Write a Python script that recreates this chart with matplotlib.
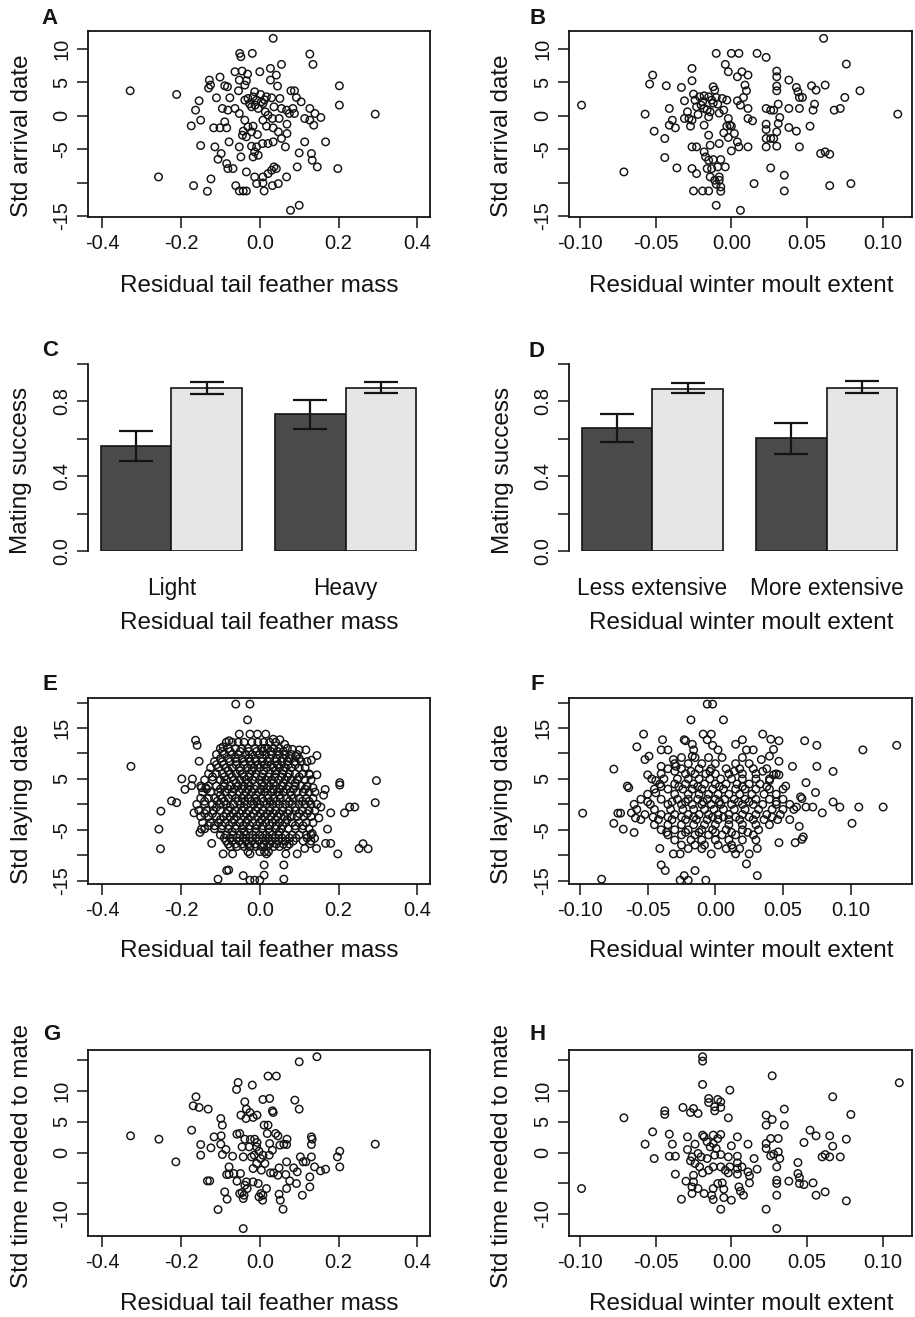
import numpy as np
import matplotlib
matplotlib.use('Agg')
import matplotlib.pyplot as plt

plt.rcParams['font.family'] = ['Liberation Sans', 'DejaVu Sans']

#figure size in pixels
W, H = 915, 1317

#panel A: residual tail feather mass vs std arrival date
a_x = [-0.329, -0.211, -0.257, -0.168, -0.133, -0.124, -0.174, -0.150, -0.163, -0.154, -0.150, -0.130,
       -0.128, -0.125, -0.101, -0.110, -0.114, -0.117, -0.101, -0.084, -0.106, -0.098, -0.084, -0.081,
       -0.068, -0.078, -0.076, -0.089, -0.082, -0.095, -0.081, -0.089, -0.063, -0.052, -0.051, -0.048,
       -0.019, -0.045, -0.031, -0.054, -0.038, -0.034, -0.063, -0.052, -0.038, -0.030, -0.017, -0.008,
       -0.021, -0.004, 0.008, 0.017, -0.013, 0.000, 0.027, 0.042, 0.055, 0.034, 0.027, 0.045, 0.030,
       0.051, 0.036, 0.055, 0.068, 0.021, 0.008, 0.017, 0.032, 0.049, 0.069, 0.034, 0.047, 0.069, 0.055,
       0.065, 0.034, 0.021, 0.007, -0.008, -0.021, -0.013, -0.004, -0.017, -0.048, -0.052, -0.042,
       -0.044, -0.034, -0.030, -0.017, -0.021, -0.038, -0.034, -0.013, -0.008, 0.008, 0.011, 0.008,
       0.021, 0.030, 0.036, 0.042, 0.032, 0.047, 0.068, -0.061, -0.052, -0.042, -0.034, 0.078, 0.100,
       0.095, 0.100, 0.114, 0.131, 0.133, 0.146, 0.167, 0.198, 0.127, 0.135, 0.202, 0.202, 0.293, 0.079,
       0.088, 0.093, 0.105, 0.127, 0.140, 0.155, 0.114, 0.127, 0.137, 0.084, 0.088, 0.075,
       -0.012, 0.004, 0.014, -0.026, 0.002, 0.012, -0.006]
a_y = [3.75, 3.2, -9.15, -10.45, -11.3, -9.45, -1.5, -0.65, 0.85, 2.25, -4.45, 4.15,
       5.35, 4.6, 5.8, 2.7, -4.65, -1.8, -1.8, -1.8, -6.5, -5.65, -7.15, -7.9,
       -7.9, -3.9, 2.7, 4.5, 4.35, 1.1, 0.85, -0.9, 6.6, 5.35, 9.35, 8.85,
       9.35, 6.7, 6.25, 3.75, 4.6, 5.25, 1.1, 0.35, 2.35, 2.6, 2.85, 2.35,
       1.35, 1.1, 1.85, 2.85, 3.6, 6.6, 7.1, 6.1, 7.7, 11.6, 5.35, 4.45, 2.7,
       2.6, 1.35, 1.1, 0.85, 0.1, -0.65, -1.55, -0.4, -0.4, -1.25, -1.8, -2.4, -2.65, -3.4,
       -4.65, -3.9, -4.15, -4.15, -4.65, -4.55, -5.4, -5.9, -6.15, -6.15, -4.65, -2.3,
       -2.9, -3.15, -1.65, -1.55, -2.4, -0.65, -8.4, -9.15, -10.15, -10.05, -11.25, -9.15,
       -8.65, -8.15, -7.65, -7.9, -10.45, -10.15, -9.15, -10.45, -11.25, -11.25, -11.25, -14.15, -13.4,
       -7.65, -5.55, -3.9, -5.65, -6.65, -7.65, -3.9, -7.9, 9.25, 7.7, 4.5, 1.6, 0.25, 3.75,
       3.75, 2.75, 2.1, 1.1, 0.35, -0.25, -0.4, -0.65, -1.4, 1.1, 0.35, 0.35,
       1.6, 2.1, 0.6, 1.8, 3.2, 2.4, -2.8]

#panel B: residual winter moult extent vs std arrival date
b_x = [-0.099, -0.071, -0.057, -0.052, -0.054, -0.043, -0.051, -0.044, -0.044, -0.036, -0.041, -0.039,
       -0.041, -0.037, -0.033, -0.031, -0.029, -0.026, -0.026, -0.028, -0.027, -0.025, -0.024, -0.023,
       -0.021, -0.019, -0.018, -0.015, -0.014, -0.013, -0.012, -0.011, -0.010, -0.009, -0.006, -0.003,
       -0.018, -0.015, -0.010, -0.004, 0.000, 0.005, -0.002, 0.004, 0.007, 0.011, 0.009, 0.010, 0.008,
       0.004, 0.006, -0.005, -0.002, -0.001, 0.000, -0.003, -0.005, -0.002, 0.002, 0.004, 0.005, 0.000,
       0.011, 0.011, 0.014, 0.017, 0.023, 0.030, 0.030, 0.030, 0.030, 0.038, 0.023, 0.026, 0.028, 0.031,
       0.032, 0.023, 0.023, 0.031, 0.030, 0.023, 0.026, 0.028, 0.023, 0.030, 0.026, 0.035, 0.035, 0.015,
       0.006, -0.010, 0.011, 0.038, 0.045, 0.038, 0.043, 0.045, 0.043, 0.044, 0.045, 0.047, 0.053, 0.056,
       0.055, 0.054, 0.052, 0.062, 0.061, 0.068, 0.072, 0.075, 0.076, 0.085, 0.059, 0.062, 0.065, 0.065,
       0.079, 0.110, -0.026, -0.023, -0.018, -0.017, -0.015, -0.012, -0.007, -0.013, -0.009, -0.004,
       -0.026, -0.023, -0.016, -0.014, -0.011, -0.008, -0.010, -0.007, -0.007, -0.025, -0.019, -0.015,
       -0.008, -0.014, -0.008, -0.015, -0.026, -0.031,
       -0.020, -0.016, -0.012, -0.022, -0.008, -0.018]
b_y = [1.6, -8.4, 0.25, 6.1, 4.75, 4.5, -2.3, -3.4, -6.25, -7.8, 1.1, -0.65,
       -1.4, -1.8, 4.25, 2.25, 0.6, 7.1, 5.25, -0.4, -1.55, 3.25, 2.35, 1.35,
       2.85, 2.1, 1.1, 2.85, 0.6, 2.35, 4.35, 3.85, 2.75, 1.75, 2.6, 2.35,
       -1.4, -0.15, 9.35, 7.7, 9.35, 9.35, 6.6, 5.85, 6.6, 6.1, 4.6, 3.75, 2.75,
       2.25, 1.6, 0.85, -0.4, -1.4, -1.55, -1.55, -2.55, -3.25, -2.65, -3.9, -4.65, -5.25,
       1.1, -0.4, -0.75, 9.35, 8.75, 6.7, 5.85, 4.45, 3.75, 5.35, 1.1, 0.85, 0.85, 1.75,
       -0.25, -1.25, -2.05, -1.15, -2.4, -3.4, -3.4, -3.4, -4.65, -4.55, -7.8, -8.9, -11.25, -10.15,
       -14.15, -13.4, -4.65, 1.1, 1.1, -1.75, -2.3, -4.65, 4.25, 3.6, 2.75, 2.75, 4.5, 3.85,
       1.75, 0.85, -1.55, 4.6, 11.6, 0.85, 1.1, 2.75, 7.75, 3.75, -5.65, -5.4, -5.75, -10.45,
       -10.15, 0.25, -4.65, -4.65, -5.4, -6.15, -6.65, -6.55, -6.55, -7.9, -7.65, -7.65,
       -7.9, -8.65, -7.9, -9.15, -9.65, -9.65, -10.25, -10.65, -11.3, -11.25, -11.25, -11.25,
       -9.15, -4.4, -4.15, -2.9, -0.65, -0.4,
       1.6, 0.9, 1.9, 0.2, 0.4, 3.0]

#panel C: mating success by tail feather mass (dark / light bars, error limits)
c_groups = ['Light', 'Heavy']
c_dark = [0.563, 0.734]
c_dark_lo = [0.480, 0.651]
c_dark_hi = [0.642, 0.809]
c_light = [0.873, 0.873]
c_light_lo = [0.840, 0.843]
c_light_hi = [0.905, 0.905]

#panel D: mating success by winter moult extent
d_groups = ['Less extensive', 'More extensive']
d_dark = [0.656, 0.603]
d_dark_lo = [0.583, 0.517]
d_dark_hi = [0.733, 0.683]
d_light = [0.865, 0.872]
d_light_lo = [0.843, 0.843]
d_light_hi = [0.897, 0.911]

#panel E: tail feather mass vs std laying date (outlying points)
e_x = [-0.327, -0.251, -0.256, -0.252, -0.224, -0.211, -0.198, -0.190, -0.171, -0.173, -0.167, -0.163,
       -0.159, -0.154, -0.148, -0.137, -0.152, -0.148, -0.122, -0.106, -0.084, -0.079, -0.093, -0.069,
       -0.093, -0.078, -0.061, -0.025, -0.031, -0.052, -0.025, -0.006, 0.015, 0.034, 0.051, 0.063, 0.083,
       0.100, 0.117, 0.091, 0.145, 0.131, 0.127, 0.145, 0.135, 0.166, 0.162, 0.203, 0.203, 0.296, 0.293,
       0.215, 0.228, 0.241, 0.180, 0.155, 0.150, 0.172, 0.167, 0.180, 0.198, 0.252, 0.262, 0.275, 0.144,
       0.128, 0.114, 0.095, 0.066, 0.069, 0.061, 0.061, 0.011, 0.011, 0.000, -0.013, -0.025, -0.042,
       0.017, -0.025, 0.133, 0.139]
e_y = [7.47, -1.33, -4.87, -8.73, 0.67, 0.33, 5.0, 2.93, 5.0, 3.67, -1.67, 12.6,
       11.6, 8.47, 3.27, 3.27, -5.53, -4.87, -7.67, -14.7, -13.0, -12.9, -9.73, -9.73,
       11.3, 12.5, 19.7, 19.7, 16.6, 13.8, 13.8, 13.8, 13.8, 12.8, 12.7, 11.8, 10.8,
       10.7, 10.7, 9.47, 9.6, 8.67, 5.8, 5.8, 3.27, 2.93, 1.8, 4.27, 3.8, 4.67, 0.33,
       -1.67, -0.53, -0.53, -1.67, -0.53, -2.67, -4.87, -7.67, -7.67, -9.73, -8.67, -7.73, -8.73, -8.67,
       -7.73, -8.67, -9.73, -9.73, -8.2, -11.9, -14.7, -11.9, -13.9, -14.9, -14.9, -14.9, -14.0,
       -9.73, -9.73, -5.73, -6.67]

#panel E dense core, read row by row
e_core_y = [12.2, 11.0, 10.4, 9.8, 9.0, 8.4, 7.8, 7.2, 6.6, 6.0, 5.4, 4.8, 4.2, 3.6, 3.0, 2.4, 1.8,
            1.2, 0.6, 0.0, -0.6, -1.2, -1.8, -2.4, -3.0, -3.6, -4.2, -4.8, -5.4, -6.0, -6.6, -7.2,
            -7.8, -8.3, -9.3]
e_core_x = [
    [-0.085, -0.07, -0.055, -0.04, -0.02, -0.005, 0.01, 0.025, 0.04],
    [-0.1, -0.08, -0.062, -0.045, -0.03, -0.012, 0.005, 0.012, 0.02, 0.035, 0.05, 0.07],
    [-0.095, -0.075, -0.05, -0.028, -0.008, 0.008, 0.028, 0.045, 0.06],
    [-0.11, -0.09, -0.07, -0.055, -0.035, -0.02, 0.0, 0.015, 0.03, 0.05, 0.065, 0.08, 0.095],
    [-0.1, -0.08, -0.062, -0.045, -0.028, -0.012, 0.008, 0.025, 0.042, 0.06, 0.075, 0.1],
    [-0.115, -0.095, -0.075, -0.06, -0.04, -0.025, -0.01, 0.005, 0.02, 0.04, 0.055, 0.07, 0.09, 0.105, 0.12],
    [-0.11, -0.092, -0.06, -0.04, -0.022, -0.005, 0.012, 0.028, 0.045, 0.072, 0.09],
    [-0.125, -0.105, -0.085, -0.07, -0.05, -0.03, -0.015, 0.0, 0.018, 0.035, 0.05, 0.065, 0.08, 0.1, 0.115],
    [-0.08, -0.05, -0.02, 0.01, 0.04, 0.06],
    [-0.13, -0.11, -0.095, -0.075, -0.06, -0.045, -0.025, -0.01, 0.008, 0.025, 0.04, 0.058, 0.075, 0.09, 0.11, 0.125],
    [-0.12, -0.09, -0.07, -0.04, -0.028, -0.012, 0.005, 0.022, 0.038, 0.055, 0.07, 0.1],
    [-0.14, -0.12, -0.1, -0.085, -0.065, -0.05, -0.035, -0.018, 0.0, 0.015, 0.03, 0.048, 0.065, 0.08, 0.095, 0.115, 0.13],
    [-0.09, -0.06, -0.03, 0.005, 0.035, 0.06, 0.09],
    [-0.15, -0.13, -0.11, -0.09, -0.075, -0.055, -0.04, -0.025, -0.008, 0.01, 0.025, 0.04, 0.058, 0.072, 0.09, 0.105, 0.12],
    [-0.135, -0.1, -0.08, -0.065, -0.045, -0.03, -0.014, 0.003, 0.018, 0.035, 0.05, 0.068, 0.085, 0.115],
    [-0.145, -0.125, -0.105, -0.088, -0.07, -0.052, -0.035, -0.02, -0.003, 0.012, 0.03, 0.045, 0.06, 0.078, 0.095, 0.11, 0.125, 0.14],
    [-0.1, -0.07, -0.04, -0.01, 0.02, 0.05, 0.08],
    [-0.15, -0.13, -0.115, -0.095, -0.08, -0.06, -0.045, -0.03, -0.012, 0.005, 0.02, 0.035, 0.052, 0.068, 0.085, 0.1, 0.118, 0.135],
    [-0.14, -0.108, -0.09, -0.055, -0.038, -0.022, -0.008, 0.01, 0.027, 0.042, 0.075, 0.108, 0.125],
    [-0.16, -0.14, -0.12, -0.1, -0.085, -0.065, -0.05, -0.032, -0.015, 0.0, 0.018, 0.033, 0.05, 0.065, 0.082, 0.1, 0.115, 0.13, 0.145],
    [-0.11, -0.075, -0.04, -0.005, 0.025, 0.058, 0.09],
    [-0.155, -0.135, -0.118, -0.1, -0.08, -0.062, -0.045, -0.028, -0.01, 0.008, 0.025, 0.04, 0.058, 0.075, 0.09, 0.108, 0.125, 0.14],
    [-0.14, -0.12, -0.085, -0.068, -0.05, -0.034, -0.016, 0.002, 0.018, 0.035, 0.05, 0.07, 0.1, 0.12],
    [-0.15, -0.13, -0.11, -0.092, -0.075, -0.058, -0.04, -0.022, -0.005, 0.012, 0.028, 0.045, 0.062, 0.08, 0.095, 0.112, 0.13],
    [-0.1, -0.065, -0.03, 0.005, 0.04, 0.07],
    [-0.145, -0.125, -0.105, -0.088, -0.07, -0.05, -0.035, -0.018, 0.0, 0.015, 0.032, 0.05, 0.065, 0.082, 0.1, 0.118, 0.135],
    [-0.13, -0.115, -0.095, -0.078, -0.06, -0.042, -0.025, -0.008, 0.008, 0.025, 0.042, 0.058, 0.09, 0.11],
    [-0.14, -0.115, -0.098, -0.08, -0.062, -0.045, -0.028, -0.01, 0.005, 0.022, 0.04, 0.055, 0.072, 0.09, 0.108, 0.125],
    [-0.07, -0.04, -0.01, 0.025, 0.05],
    [-0.1, -0.085, -0.068, -0.05, -0.035, -0.018, 0.0, 0.015, 0.032, 0.048, 0.065, 0.082, 0.1, 0.118, 0.13],
    [-0.09, -0.075, -0.058, -0.042, -0.026, -0.01, 0.008, 0.022, 0.04, 0.056, 0.075, 0.092, 0.12],
    [-0.085, -0.07, -0.052, -0.035, -0.02, -0.002, 0.015, 0.03, 0.048, 0.065, 0.085, 0.11, 0.13],
    [-0.08, -0.062, -0.045, -0.03, -0.012, 0.01, 0.025, 0.042, 0.06, 0.075],
    [-0.075, -0.058, -0.04, -0.025, -0.01, 0.005, 0.02, 0.035, 0.05],
    [-0.03, 0.0, 0.012, 0.022],
]

#panel F: winter moult extent vs std laying date (outlying points)
f_x = [-0.098, -0.084, -0.075, -0.075, -0.072, -0.070, -0.068, -0.065, -0.064, -0.062, -0.060, -0.059,
       -0.058, -0.053, -0.052, -0.049, -0.050, -0.047, -0.044, -0.044, -0.041, -0.039, -0.040, -0.035,
       -0.040, -0.031, -0.029, -0.023, -0.022, -0.018, -0.017, -0.016, -0.017, -0.009, -0.003, -0.006,
       -0.002, 0.006, 0.002, -0.006, -0.002, 0.015, 0.020, 0.023, 0.028, 0.034, 0.035, 0.041, 0.047,
       0.043, 0.040, 0.047, 0.057, 0.043, 0.047, 0.040, 0.052, 0.067, 0.066, 0.075, 0.075, 0.074, 0.087,
       0.109, 0.134, 0.124, 0.106, 0.092, 0.087, 0.079, 0.072, 0.101, 0.062, 0.065, 0.064, 0.059, 0.047,
       0.031, 0.031, 0.023, 0.025, 0.015, 0.013, -0.003, -0.007, -0.015, -0.023, -0.020, -0.026, -0.037,
       -0.040, -0.041, -0.031, -0.026, 0.063, 0.064, 0.060, 0.067]
f_y = [-1.73, -14.7, 6.93, -3.73, -1.73, -1.73, -4.87, 3.6, 3.27, -1.67, -5.53, -2.67,
       11.3, 13.8, 8.8, 9.47, 5.8, 5.0, 4.67, 2.27, 4.0, 12.7, 10.7, 10.7,
       7.47, 8.8, 7.47, 12.7, 12.5, 16.6, 11.8, 10.7, 9.47, 13.8, 13.8, 19.7,
       19.7, 16.6, 10.7, 12.7, 11.6, 11.8, 12.7, 10.7, 10.7, 8.8, 13.8, 12.8, 12.5,
       10.8, 9.47, 8.47, 7.47, 5.8, 5.8, 4.67, 3.6, 4.27, 12.5, 11.6, 7.47, 2.33, 6.47,
       10.7, 11.6, -0.53, -0.53, -0.53, 0.47, -1.67, -0.53, -3.73, -4.33, -6.4, -6.87, -7.53, -7.53,
       -8.67, -14.0, -11.7, -9.73, -9.73, -8.67, -9.73, -14.9, -13.0, -14.0, -14.9, -14.9, -13.0,
       -11.9, -8.67, -9.73, -9.73, 1.47, 1.13, -0.53, -0.53]

#panel F dense core, read row by row
f_core_y = [9.2, 8.0, 7.0, 6.5, 6.0, 5.0, 4.0, 3.5, 3.0, 2.0, 1.0, 0.5, 0.0, -1.0, -2.0, -2.5,
            -3.0, -4.0, -5.0, -5.5, -6.0, -7.0, -8.0, -8.7]
f_core_x = [
    [-0.025, -0.015, -0.005, 0.005, 0.02],
    [-0.03, -0.02, -0.01, 0.0, 0.015, 0.025],
    [-0.035, -0.025, -0.012, -0.003, 0.008, 0.018, 0.028, 0.038],
    [-0.03, -0.018, -0.004, 0.014, 0.035],
    [-0.04, -0.022, -0.015, -0.007, 0.0, 0.01, 0.02, 0.03, 0.045],
    [-0.038, -0.028, -0.02, -0.012, -0.004, 0.004, 0.012, 0.02, 0.03, 0.04],
    [-0.03, -0.022, -0.016, -0.008, 0.0, 0.008, 0.016, 0.025, 0.033],
    [-0.04, -0.027, -0.013, 0.003, 0.02, 0.038],
    [-0.045, -0.035, -0.024, -0.017, -0.01, -0.002, 0.006, 0.015, 0.022, 0.03, 0.04, 0.05],
    [-0.05, -0.03, -0.02, -0.012, -0.005, 0.002, 0.01, 0.018, 0.027, 0.036, 0.045],
    [-0.055, -0.04, -0.028, -0.02, -0.013, -0.006, 0.0, 0.007, 0.014, 0.022, 0.03, 0.04, 0.05],
    [-0.05, -0.032, -0.022, -0.009, 0.003, 0.017, 0.025, 0.045],
    [-0.06, -0.048, -0.035, -0.025, -0.017, -0.01, -0.003, 0.004, 0.012, 0.02, 0.028, 0.035, 0.045, 0.055],
    [-0.058, -0.045, -0.033, -0.024, -0.016, -0.008, -0.001, 0.006, 0.014, 0.022, 0.032, 0.042, 0.05, 0.058],
    [-0.052, -0.04, -0.03, -0.02, -0.012, -0.005, 0.002, 0.01, 0.02, 0.03, 0.038, 0.048],
    [-0.046, -0.035, -0.025, -0.016, -0.002, 0.006, 0.015, 0.025, 0.042],
    [-0.055, -0.042, -0.032, -0.022, -0.014, -0.006, 0.002, 0.01, 0.018, 0.028, 0.036, 0.046, 0.055],
    [-0.045, -0.035, -0.025, -0.016, -0.008, 0.0, 0.01, 0.02, 0.03, 0.04],
    [-0.04, -0.03, -0.02, -0.01, -0.002, 0.008, 0.02, 0.032],
    [-0.036, -0.022, -0.012, 0.0, 0.012, 0.024],
    [-0.035, -0.025, -0.015, -0.005, 0.005, 0.015, 0.028],
    [-0.03, -0.018, -0.01, 0.0, 0.01, 0.02, 0.03],
    [-0.025, -0.015, -0.008, 0.002, 0.012],
    [-0.02, -0.01, 0.008, 0.018],
]

#panel G: tail feather mass vs std time needed to mate
g_x = [-0.328, -0.256, -0.213, -0.173, -0.162, -0.169, -0.154, -0.131, -0.150, -0.150, -0.124, -0.133,
       -0.127, -0.099, -0.095, -0.116, -0.098, -0.099, -0.095, -0.086, -0.069, -0.078, -0.084, -0.078,
       -0.066, -0.058, -0.089, -0.083, -0.106, -0.059, -0.055, -0.019, -0.038, -0.048, -0.034, -0.025,
       -0.035, -0.017, -0.007, 0.008, 0.025, 0.032, 0.034, 0.011, 0.021, 0.042, 0.100, 0.145, 0.089,
       0.100, -0.058, -0.051, -0.038, -0.024, -0.013, -0.007, -0.008, -0.027, -0.045, -0.002, -0.014,
       -0.042, -0.021, 0.002, 0.008, 0.013, -0.008, -0.017, 0.004, 0.021, 0.019, 0.040, 0.046, 0.025,
       0.032, 0.051, 0.061, 0.069, 0.068, 0.024, 0.049, 0.027, 0.035, 0.046, 0.068, 0.066, -0.049,
       -0.034, -0.038, -0.032, -0.045, -0.051, -0.042, -0.040, -0.004, 0.003, 0.007, 0.017, 0.008,
       -0.017, 0.049, 0.052, 0.059, 0.068, 0.076, 0.093, 0.108, 0.086, 0.095, 0.103, 0.110, 0.117,
       0.131, 0.133, 0.131, 0.131, 0.127, 0.127, 0.139, 0.154, 0.167, 0.197, 0.203, 0.203, 0.293,
       -0.042, -0.002]
g_y = [2.72, 2.17, -1.52, 3.64, 9.08, 7.61, 7.34, 7.07, 1.30, -0.43, 0.76, -4.62,
       -4.62, 5.54, 4.46, 2.55, 2.72, 1.36, -0.33, 0.49, -0.60, -2.34, -3.59, -3.53,
       -3.42, -4.67, -6.41, -7.61, -9.29, 10.27, 11.41, 10.98, 8.26, 6.09, 7.07, 6.52,
       5.54, 5.71, 6.09, 8.64, 8.80, 6.79, 6.52, 4.46, 12.45, 12.45, 14.78, 15.60, 8.53,
       7.07, 2.99, 3.10, 2.17, 2.12, 2.17, 1.63, 0.92, 0.92, 0.92, 0.22, -0.43,
       -0.71, -0.71, -0.98, -0.43, -1.79, -1.79, -2.61, -2.88, 4.46, 3.10, 3.10, 2.72, 1.47,
       0.38, 1.20, 1.36, 2.17, 1.30, -0.43, -2.50, -3.32, -3.32, -3.70, -1.52, -3.59, -3.42,
       -4.78, -5.33, -5.87, -6.52, -6.68, -7.50, -6.96, -5.05, -6.68, -7.77, -5.87, -6.96,
       -4.78, -6.79, -7.77, -9.24, -5.87, -4.62, -5.05, -6.96, -2.50, -3.15, -0.71, -1.52, -1.52,
       2.55, 2.17, 1.30, -0.71, -3.97, -5.60, -2.34, -2.99, -2.72, -0.71, 0.22, -2.34, 1.36,
       -12.39, -7.23]

#panel H: winter moult extent vs std time needed to mate
h_x = [-0.099, -0.071, -0.057, -0.052, -0.051, -0.044, -0.044, -0.041, -0.039, -0.041, -0.037, -0.037,
       -0.033, -0.032, -0.029, -0.029, -0.030, -0.027, -0.025, -0.022, -0.026, -0.027, -0.024, -0.024,
       -0.025, -0.025, -0.026, -0.026, -0.022, -0.019, -0.019, -0.019, -0.015, -0.015, -0.009, -0.007,
       -0.011, -0.011, -0.007, -0.001, -0.002, -0.019, -0.018, -0.012, -0.007, -0.016, -0.012, -0.014,
       -0.010, -0.009, -0.022, -0.020, -0.016, -0.011, -0.007, -0.021, -0.019, -0.015, -0.012, -0.007,
       -0.004, -0.002, -0.001, 0.004, 0.000, 0.004, 0.004, 0.004, 0.004, -0.009, -0.006, -0.012,
       -0.005, -0.018, -0.013, -0.012, -0.005, 0.000, -0.007, 0.005, 0.006, 0.008, 0.007, 0.011,
       0.012, 0.012, 0.015, 0.017, 0.023, 0.023, 0.023, 0.023, 0.027, 0.027, 0.026, 0.031, 0.026,
       0.028, 0.032, 0.031, 0.030, 0.030, 0.030, 0.030, 0.023, 0.030, 0.035, 0.035, 0.038, 0.044,
       0.044, 0.045, 0.045, 0.048, 0.048, 0.052, 0.056, 0.054, 0.056, 0.060, 0.062, 0.065, 0.065,
       0.067, 0.062, 0.067, 0.072, 0.076, 0.076, 0.079, 0.111, 0.011, -0.002]
h_y = [-5.87, 5.65, 1.36, 3.37, -0.98, 6.79, 6.20, 2.99, 1.36, -0.60, -0.60, -3.53,
       -7.61, 7.34, 2.55, 0.49, -4.67, 6.52, 7.17, 6.36, -0.71, -1.36, -1.79, 1.36,
       -3.70, -4.78, -5.60, -6.68, -5.87, 15.60, 14.89, 11.09, 8.80, 8.15, 8.64, 8.26,
       7.45, 6.79, 7.34, 10.16, 5.65, 2.83, 2.55, 2.83, 2.93, 1.74, 1.47, 0.92,
       0.65, 2.28, -0.16, -0.71, -0.98, -0.43, -0.33, -2.34, -3.32, -2.88, -2.34, -2.34,
       -2.88, -3.32, -2.34, 2.55, 1.09, -0.60, -1.68, -2.61, -3.53, -5.05, -4.95, -5.87,
       -5.98, -6.68, -6.96, -7.66, -7.34, -7.77, -9.24, -5.60, -6.30, -6.96, -2.34, 1.36,
       -3.80, -4.95, -0.98, -2.72, 1.47, 0.65, 6.09, 4.46, 5.38, 12.50, 2.28, 2.28, -0.54,
       -0.27, -0.98, 0.11, -2.34, -4.51, -5.05, -6.96, -9.24, -12.39, 7.07, 4.46, -4.67, -1.63,
       -3.42, -4.08, -5.05, -5.22, 1.63, 3.64, 2.72, -4.95, -6.96, -0.71, -0.33, -0.71, 2.72,
       1.03, -6.41, 9.08, -0.71, 2.17, -7.88, 6.20, 11.36, -3.15, -0.71]

x_lab_tail = 'Residual tail feather mass'
x_lab_moult = 'Residual winter moult extent'
tail_ticks = [-0.4, -0.2, 0.0, 0.2, 0.4]
tail_labels = ['-0.4', '-0.2', '0.0', '0.2', '0.4']
moult_ticks = [-0.10, -0.05, 0.0, 0.05, 0.10]
moult_labels = ['-0.10', '-0.05', '0.00', '0.05', '0.10']

DARK = '#4a4a4a'
LIGHT = '#e6e6e6'
INK = '#141414'
TICK_FS = 14.5
LAB_FS = 17.5


def rect(l, t, r, b):
    return [l / W, 1 - b / H, (r - l) / W, (b - t) / H]


def ftext(x, y, s, **kw):
    fig.text(x / W, 1 - y / H, s, ha='center', va='center', color=INK, **kw)


def style_axis(ax):
    ax.tick_params(axis='both', direction='out', length=8, width=1.1, labelsize=TICK_FS,
                   colors=INK)
    ax.tick_params(axis='x', pad=4)
    ax.tick_params(axis='y', pad=4)
    for lab in ax.get_yticklabels():
        lab.set_rotation(90)
        lab.set_va('center')


def scatter_panel(box, xs, ys, xlim, ylim, xticks, xticklabels, yticks, yticklabels):
    ax = fig.add_axes(rect(*box))
    ax.scatter(xs, ys, s=29, facecolors='none', edgecolors=INK, linewidths=1.05)
    ax.set_xlim(*xlim)
    ax.set_ylim(*ylim)
    ax.set_xticks(xticks)
    ax.set_xticklabels(xticklabels)
    ax.set_yticks(yticks)
    ax.set_yticklabels(yticklabels)
    for sp in ax.spines.values():
        sp.set_linewidth(1.3)
        sp.set_color(INK)
    style_axis(ax)
    return ax


def bar_panel(left, groups, dark, dark_lo, dark_hi, light, light_lo, light_hi):
    # bar units: width 1, 70.5 px each
    ax = fig.add_axes(rect(left, 364, left + 4.9 * 70.5, 551))
    gpos = np.array([1.0, 3.47])
    ax.bar(gpos - 0.5, dark, width=1.0, color=DARK, edgecolor=INK, linewidth=1.2)
    ax.bar(gpos + 0.5, light, width=1.0, color=LIGHT, edgecolor=INK, linewidth=1.2)
    dark = np.array(dark)
    light = np.array(light)
    ax.errorbar(gpos - 0.5, dark, yerr=[dark - np.array(dark_lo), np.array(dark_hi) - dark],
                fmt='none', ecolor=INK, elinewidth=1.6, capsize=12, capthick=1.6)
    ax.errorbar(gpos + 0.5, light, yerr=[light - np.array(light_lo), np.array(light_hi) - light],
                fmt='none', ecolor=INK, elinewidth=1.6, capsize=12, capthick=1.6)
    ax.set_xlim(-0.18, 4.72)
    ax.set_ylim(0, 1.0)
    for s in ['top', 'right', 'bottom']:
        ax.spines[s].set_visible(False)
    ax.spines['left'].set_linewidth(1.3)
    ax.spines['left'].set_color(INK)
    ax.spines['left'].set_bounds(0, 1.0)
    ax.set_yticks([0, 0.2, 0.4, 0.6, 0.8, 1.0])
    ax.set_yticklabels(['0.0', '', '0.4', '', '0.8', ''])
    ax.set_xticks(gpos)
    ax.set_xticklabels(groups)
    style_axis(ax)
    ax.tick_params(axis='x', length=0, pad=19, labelsize=16.3)
    return ax


fig = plt.figure(figsize=(W / 100, H / 100), dpi=100)

#row 1 - arrival date
arr_ticks = [-15, -10, -5, 0, 5, 10]
arr_labels = ['-15', '', '-5', '0', '5', '10']
scatter_panel((88, 31, 430, 217), a_x, a_y, (-0.436, 0.432), (-15.15, 12.7),
              tail_ticks, tail_labels, arr_ticks, arr_labels)
scatter_panel((569, 31, 912, 217), b_x, b_y, (-0.1073, 0.1194), (-15.15, 12.7),
              moult_ticks, moult_labels, arr_ticks, arr_labels)

#row 2 - mating success bars
bar_panel(88.3, c_groups, c_dark, c_dark_lo, c_dark_hi, c_light, c_light_lo, c_light_hi)
bar_panel(569.3, d_groups, d_dark, d_dark_lo, d_dark_hi, d_light, d_light_lo, d_light_hi)

#row 3 - laying date
lay_ticks = [-15, -10, -5, 0, 5, 10, 15, 20]
lay_labels = ['-15', '', '-5', '', '5', '', '15', '']
ex = list(e_x)
ey = list(e_y)
for yv, row in zip(e_core_y, e_core_x):
    ex += row
    ey += [yv] * len(row)
fx = list(f_x)
fy = list(f_y)
for yv, row in zip(f_core_y, f_core_x):
    fx += row
    fy += [yv] * len(row)
scatter_panel((88, 698, 430, 884), ex, ey, (-0.436, 0.432), (-15.65, 20.9),
              tail_ticks, tail_labels, lay_ticks, lay_labels)
scatter_panel((569, 698, 912, 884), fx, fy, (-0.1081, 0.1453), (-15.65, 20.9),
              moult_ticks, moult_labels, lay_ticks, lay_labels)

#row 4 - time needed to mate
mate_ticks = [-10, -5, 0, 5, 10, 15]
mate_labels = ['-10', '', '0', '5', '10', '']
scatter_panel((88, 1050, 430, 1236), g_x, g_y, (-0.436, 0.432), (-13.6, 16.7),
              tail_ticks, tail_labels, mate_ticks, mate_labels)
scatter_panel((569, 1050, 912, 1236), h_x, h_y, (-0.1073, 0.1194), (-13.6, 16.7),
              moult_ticks, moult_labels, mate_ticks, mate_labels)

#axis titles and panel letters
for yy, ytitle in [(136, 'Std arrival date'), (804, 'Std laying date'), (1156, 'Std time needed to mate')]:
    ftext(22, yy, ytitle, fontsize=LAB_FS, rotation=90)
    ftext(502, yy, ytitle, fontsize=LAB_FS, rotation=90)
ftext(21, 470, 'Mating success', fontsize=LAB_FS, rotation=90)
ftext(503, 470, 'Mating success', fontsize=LAB_FS, rotation=90)

for yy in [286, 623, 951, 1304]:
    ftext(259, yy, x_lab_tail, fontsize=LAB_FS)
    ftext(741, yy, x_lab_moult, fontsize=LAB_FS)

for (xx, yy, letter) in [(50, 18, 'A'), (538, 18, 'B'), (50, 350, 'C'), (537, 351, 'D'),
                          (50, 685, 'E'), (537, 685, 'F'), (52, 1035, 'G'), (538, 1035, 'H')]:
    ftext(xx, yy, letter, fontsize=16, fontweight='bold')

fig.savefig('out.png', dpi=100)
